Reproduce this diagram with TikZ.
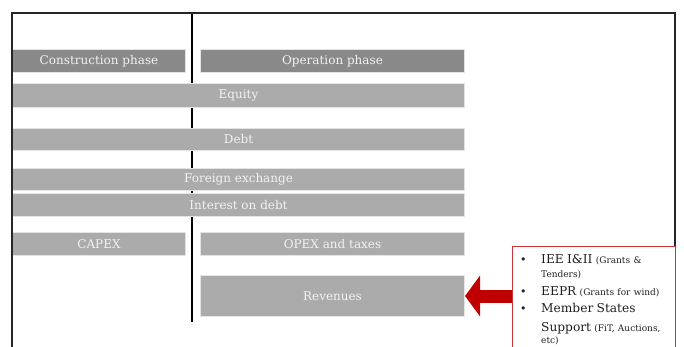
\documentclass[tikz,border=0pt]{standalone}
\usepackage{fontspec}
\setmainfont{DejaVu Serif}
\usetikzlibrary{arrows.meta, positioning}

\definecolor{bardark}{HTML}{898989}
\definecolor{barlight}{HTML}{ABABAB}
\definecolor{barrim}{HTML}{E4E4E4}
\definecolor{bartext}{HTML}{F2F2F2}
\definecolor{arrowred}{HTML}{C00000}
\definecolor{boxred}{HTML}{C8383A}

\newcommand{\bigtxt}{\fontsize{12.2}{13}\selectfont}
\newcommand{\smalltxt}{\fontsize{9}{13}\selectfont}
\newcommand{\supbullet}{\makebox[23pt][l]{\hspace{2pt}\fontsize{11}{13}\selectfont\textbullet}}
\newcommand{\supindent}{\hspace*{23pt}}

\tikzset{
  bar/.style={draw=barrim, line width=1pt, fill=barlight, text=bartext,
    font=\fontsize{12}{14}\selectfont, inner sep=0pt, anchor=north west},
  phase/.style={bar, fill=bardark},
  supportlist/.style={anchor=north west, inner xsep=6pt, inner ysep=8.5pt,
    text width=151pt, align=left, text=black!88},
}

\begin{document}
\begin{tikzpicture}[x=1pt, y=-1pt]
  \useasboundingbox (0,0) rectangle (684,347);

  % divider between the two phases
  \coordinate (divtop) at (192,13);
  \coordinate (divbot) at (192,322);
  \draw[line width=2.6pt] (divtop) -- (divbot);

  % phases
  \node[phase, minimum width=173pt, minimum height=23pt] (construction) at (12,49) {Construction phase};
  \node[phase, minimum width=264pt, minimum height=23pt] (operation) at (200,49) {Operation phase};

  % financing
  \node[bar, minimum width=452pt, minimum height=24pt] (equity) at (12,83) {Equity};
  \node[bar, minimum width=452pt, minimum height=22pt] (debt) at (12,128) {Debt};
  \node[bar, minimum width=452pt, minimum height=22pt] (fx) at (12,168) {Foreign exchange};
  \node[bar, minimum width=452pt, minimum height=23pt] (interest) at (12,193) {Interest on debt};

  % costs and revenues
  \node[bar, minimum width=173pt, minimum height=23pt] (capex) at (12,232) {CAPEX};
  \node[bar, minimum width=264pt, minimum height=23pt] (opex) at (200,232) {OPEX and taxes};
  \node[bar, minimum width=264pt, minimum height=41pt] (revenues) at (200,275) {Revenues};

  % frame
  \draw[line width=1.1pt, black!85] (12,352) -- (12,13) -- (675,13) -- (675,246);

  % support schemes
  \node[supportlist] (support) at (512,246) {%
    \lineskiplimit=-20pt
    \supbullet\bigtxt IEE I\&II \smalltxt(Grants \&\\[1pt]
    \supindent Tenders)\\[5pt]
    \supbullet\bigtxt EEPR \smalltxt(Grants for wind)\\[4pt]
    \supbullet\bigtxt Member States\\[6pt]
    \supindent Support \smalltxt(FiT, Auctions,\\
    \supindent etc)};
  \draw[boxred, line width=1pt] ([yshift=-30pt]support.south west) -- (support.north west)
    -- (support.north east) -- ([yshift=-30pt]support.south east);

  \draw[arrowred, line width=13pt, -{Triangle[length=15pt, width=40pt]}]
    (support.west |- revenues.east) -- (revenues.east);
\end{tikzpicture}
\end{document}
